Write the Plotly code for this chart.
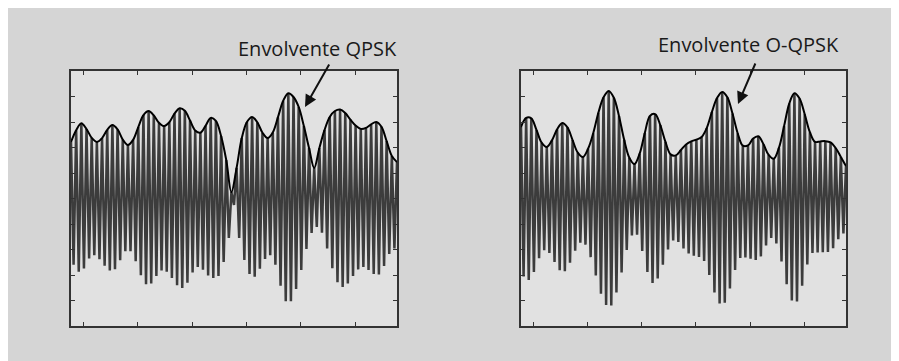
import plotly.graph_objects as go

# Per-cycle carrier peaks (upper) and troughs (lower)
qpsk_upper = [2.22, 2.68, 2.95, 2.72, 2.38, 2.22, 2.37, 2.69, 2.88, 2.71, 2.31, 2.10, 2.30, 2.80, 3.27, 3.43,
              3.26, 2.97, 2.84, 2.99, 3.33, 3.54, 3.44, 3.06, 2.67, 2.58, 2.85, 3.16, 3.04, 2.45, 1.51, 0.25,
              1.20, 2.37, 3.00, 3.20, 2.99, 2.58, 2.37, 2.59, 3.19, 3.83, 4.13, 3.98, 3.59, 2.84, 1.98, 1.20,
              1.98, 2.69, 3.20, 3.43, 3.49, 3.35, 3.09, 2.86, 2.73, 2.77, 2.91, 3.00, 2.81, 2.25, 1.67, 1.43]
qpsk_lower = [-2.60, -2.87, -2.74, -2.35, -2.22, -2.38, -2.64, -2.82, -2.77, -2.42, -2.07, -2.07, -2.46, -3.01, -3.36, -3.33,
              -3.04, -2.82, -2.87, -3.12, -3.40, -3.51, -3.30, -2.90, -2.69, -2.79, -3.02, -3.12, -3.04, -2.49, -1.55, -0.25,
              -1.55, -2.41, -2.96, -3.07, -2.75, -2.37, -2.22, -2.60, -3.42, -4.03, -4.03, -3.55, -2.80, -1.98, -1.35, -1.12,
              -1.34, -1.96, -2.73, -3.28, -3.47, -3.33, -3.04, -2.78, -2.69, -2.80, -2.96, -2.98, -2.65, -2.18, -1.96, -1.90]
oqpsk_upper = [2.80, 3.16, 3.14, 2.69, 2.19, 2.02, 2.28, 2.71, 2.96, 2.79, 2.29, 1.80, 1.63, 1.95, 2.56, 3.36,
               3.97, 4.22, 3.95, 3.23, 2.30, 1.60, 1.35, 1.76, 2.57, 3.24, 3.31, 2.88, 2.22, 1.73, 1.69, 1.90,
               2.12, 2.24, 2.31, 2.41, 2.76, 3.39, 3.94, 4.18, 3.97, 3.33, 2.56, 2.07, 2.08, 2.35, 2.44, 2.13,
               1.71, 1.56, 1.99, 2.84, 3.72, 4.13, 3.92, 3.30, 2.60, 2.22, 2.24, 2.25, 2.20, 1.98, 1.63, 1.27]
oqpsk_lower = [-3.06, -3.20, -2.88, -2.34, -2.03, -2.14, -2.49, -2.81, -2.85, -2.52, -2.05, -1.73, -1.81, -2.30, -3.02, -3.73,
               -4.18, -4.20, -3.69, -2.90, -2.02, -1.45, -1.42, -2.06, -2.88, -3.31, -3.14, -2.60, -2.00, -1.65, -1.70, -1.96,
               -2.16, -2.24, -2.29, -2.45, -3.00, -3.69, -4.12, -4.09, -3.53, -2.80, -2.33, -2.31, -2.36, -2.41, -2.27, -1.84,
               -1.55, -1.76, -2.47, -3.36, -4.00, -4.04, -3.42, -2.59, -2.14, -2.12, -2.11, -2.10, -1.95, -1.60, -1.37, -1.35]

labels = ["Envolvente QPSK", "Envolvente O-QPSK"]
t_span = 6.0
x_ticks = [0.23, 1.23, 2.23, 3.23, 4.23, 5.23]
y_ticks = [-4, -3, -2, -1, 0, 1, 2, 3, 4]

OFF = 8  # page body margin
W, H = 899 - OFF, 361 - OFF


def px(x):
    return (x - OFF) / W


def py(y):
    return 1 - (y - OFF) / H


fig = go.Figure()

panels = [(qpsk_upper, qpsk_lower, "x", "y"), (oqpsk_upper, oqpsk_lower, "x2", "y2")]
for up, lo, xa, ya in panels:
    n = len(up)
    step = t_span / (n - 1)
    t = [i * step for i in range(n)]
    xs, ys = [], []
    for i in range(n):
        xs += [t[i], t[i] + step / 2]
        ys += [up[i], lo[i]]
    fig.add_trace(go.Scatter(x=xs, y=ys, mode="lines", line=dict(color="#3c3c3c", width=2.5),
                             xaxis=xa, yaxis=ya, showlegend=False, hoverinfo="skip"))
    fig.add_trace(go.Scatter(x=t, y=up, mode="lines", line=dict(color="#000000", width=2, shape="spline"),
                             xaxis=xa, yaxis=ya, showlegend=False, hoverinfo="skip"))

ax_common = dict(showgrid=False, zeroline=False, showticklabels=False, ticks="inside", ticklen=4,
                 tickcolor="#333333", tickwidth=1, showline=True, linecolor="#333333", linewidth=2,
                 mirror="ticks")

fig.update_layout(
    width=W, height=H, margin=dict(l=0, r=0, t=0, b=0),
    paper_bgcolor="#d5d5d5", plot_bgcolor="#e1e1e1",
    xaxis=dict(domain=[px(71), px(397)], range=[0, t_span], tickvals=x_ticks, anchor="y", **ax_common),
    yaxis=dict(domain=[py(326), py(71)], range=[-5, 5], tickvals=y_ticks, anchor="x", **ax_common),
    xaxis2=dict(domain=[px(521), px(846)], range=[0, t_span], tickvals=x_ticks, anchor="y2", **ax_common),
    yaxis2=dict(domain=[py(326), py(71)], range=[-5, 5], tickvals=y_ticks, anchor="x2", **ax_common),
)

font = dict(family="Open Sans", size=20, color="#1a1a1a")
fig.add_annotation(xref="paper", yref="paper", x=px(236), y=py(48), xanchor="left", yanchor="middle",
                   text=labels[0], showarrow=False, font=font)
fig.add_annotation(xref="paper", yref="paper", x=px(656), y=py(44), xanchor="left", yanchor="middle",
                   text=labels[1], showarrow=False, font=font)
fig.add_annotation(xref="paper", yref="paper", x=px(305), y=py(107), ax=25, ay=-44, text="",
                   showarrow=True, arrowhead=2, arrowsize=1.2, arrowwidth=2, arrowcolor="#111111")
fig.add_annotation(xref="paper", yref="paper", x=px(738), y=py(104), ax=18, ay=-42, text="",
                   showarrow=True, arrowhead=2, arrowsize=1.2, arrowwidth=2, arrowcolor="#111111")

fig.write_html("out.html")
